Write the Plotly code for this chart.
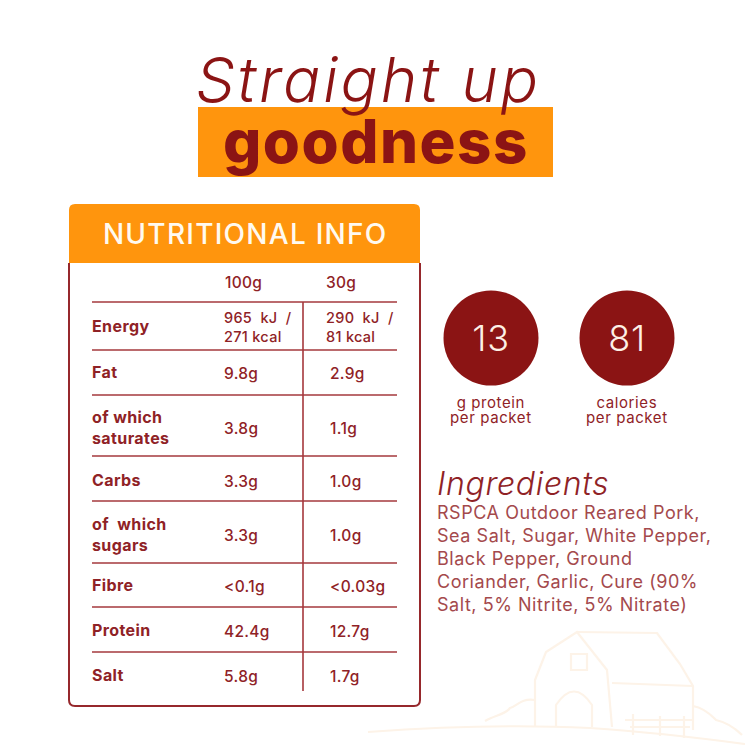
import json
import plotly.graph_objects as go

MAROON = "#8b1414"
TEXT = "#8f2226"
LINE = "#a5383c"
ORANGE = "#ff950d"
BARN = "#fdf3e8"
FONT = "Inter"

row_labels = ["Energy", "Fat", "of which<br>saturates", "Carbs", "of  which<br>sugars", "Fibre", "Protein", "Salt"]
per_100g = ["965  kJ  /<br>271 kcal", "9.8g", "3.8g", "3.3g", "3.3g", "&lt;0.1g", "42.4g", "5.8g"]
per_30g = ["290  kJ  /<br>81 kcal", "2.9g", "1.1g", "1.0g", "1.0g", "&lt;0.03g", "12.7g", "1.7g"]
column_heads = ["100g", "30g"]
stat_values = ["13", "81"]
stat_labels = ["g protein<br>per packet", "calories<br>per packet"]
ingredients = ["RSPCA Outdoor Reared Pork,", "Sea Salt, Sugar, White Pepper,", "Black Pepper, Ground",
               "Coriander, Garlic, Cure (90%", "Salt, 5% Nitrite, 5% Nitrate)"]

row_y = [326, 372, 427, 480, 534, 585, 630, 675]
rule_y = [302, 350, 395, 456, 501, 563, 607, 652]
ingredient_y = [512, 535, 558, 581, 604]
circle_x = [491, 627]

shapes, ann, spacing, line_dy = [], [], [], []

def text(x, y, s, size, color=TEXT, weight=400, anchor="left", style="normal", em=0.02, dy=None):
    spacing.append(em)
    line_dy.append(dy)
    ann.append(dict(x=x, y=y, text=s, xref="x", yref="y", showarrow=False, xanchor=anchor, yanchor="middle",
                    align=anchor, font=dict(family=FONT, size=size, color=color, weight=weight, style=style)))

def path(d, color, width=0, fill=None):
    shapes.append(dict(type="path", path=d, xref="x", yref="y", layer="below",
                       line=dict(color=color, width=width), fillcolor=fill or "rgba(0,0,0,0)"))

# barn watermark
for d in ["M368,732 C450,726 530,725 590,728 C650,732 700,738 745,744",
          "M535,727 L535,680 L546,652 L577,632 L607,670 L612,727",
          "M577,632 L657,633 L680,664 L693,686 L693,730",
          "M612,683 L693,686",
          "M556,726 L556,705 Q574,678 592,705 L592,727",
          "M571,654 H587 V670 H571 Z",
          "M485,721 C495,715 505,715 510,708 C518,706 520,698 535,700",
          "M693,706 C705,708 712,716 716,720 C725,722 735,728 742,735",
          "M625,720 H693 M633,714 V735 M660,716 V736 M684,716 V738 M630,727 H690"]:
    path(d, BARN, 2.2)

# title
shapes.append(dict(type="rect", x0=198, x1=553, y0=107, y1=177, xref="x", yref="y", layer="below",
                   fillcolor=ORANGE, line_width=0))
text(368, 79, "Straight up", 62, MAROON, 300, "center", "italic", em=0.045)
text(376, 141, "goodness", 60, MAROON, 800, "center", em=0.025)

# card
r = 6
L, R, T, H, B = 69, 420, 204, 263, 706
path(f"M{L},{H} V{B-r} Q{L},{B} {L+r},{B} H{R-r} Q{R},{B} {R},{B-r} V{H}", "#96282c", 2)
path(f"M{L},{H} V{T+r} Q{L},{T} {L+r},{T} H{R-r} Q{R},{T} {R},{T+r} V{H} Z", ORANGE, 0, ORANGE)
text(244.5, 234, "NUTRITIONAL INFO", 28, "#fffaf0", 500, "center", em=0.045)

for y in rule_y:
    shapes.append(dict(type="line", x0=92, x1=397, y0=y, y1=y, xref="x", yref="y", line=dict(color=LINE, width=1.6)))
shapes.append(dict(type="line", x0=303, x1=303, y0=302, y1=691, xref="x", yref="y", line=dict(color=LINE, width=1.6)))

text(223, 282, column_heads[0], 15.5, TEXT, 500)
text(324, 282, column_heads[1], 15.5, TEXT, 500)
for i, y in enumerate(row_y):
    text(90, y, row_labels[i], 16, TEXT, 700, em=0.025)
    text(222, y + 1, per_100g[i], 15.5 if i else 14.5, TEXT, 500)
    text(324 if i == 0 else 328, y + 1, per_30g[i], 15.5 if i else 14.5, TEXT, 500)

# circles
for i, cx in enumerate(circle_x):
    shapes.append(dict(type="circle", x0=cx-47.5, x1=cx+47.5, y0=338-47.5, y1=338+47.5, xref="x", yref="y",
                       fillcolor=MAROON, line_width=0))
    text(cx, 338, stat_values[i], 36, "#fdf0e6", 300, "center", em=0.02)
    text(cx, 412.5, stat_labels[i], 15, TEXT, 400, "center", em=0.04, dy="1em")

# ingredients
text(435, 483, "Ingredients", 32, TEXT, 300, "left", "italic", em=0.02)
for y, line in zip(ingredient_y, ingredients):
    text(435, y, line, 18, "#a4494c", 400, em=0.03)

fig = go.Figure()
fig.update_layout(
    width=745, height=745, margin=dict(l=0, r=0, t=0, b=0), paper_bgcolor="white", plot_bgcolor="white",
    xaxis=dict(range=[0, 745], visible=False, fixedrange=True),
    yaxis=dict(range=[745, 0], visible=False, fixedrange=True),
    shapes=shapes, annotations=ann, showlegend=False,
)
post = """
document.body.style.margin = '0';
var sp = %s, ld = %s;
document.querySelectorAll('.annotation').forEach(function (a) {
  var i = +a.getAttribute('data-index');
  var t = a.querySelector('.annotation-text');
  if (!t) return;
  t.style.letterSpacing = sp[i] + 'em';
  if (ld[i]) t.querySelectorAll('tspan.line').forEach(function (s, k) { if (k) s.setAttribute('dy', ld[i]); });
});
""" % (json.dumps(spacing), json.dumps(line_dy))
fig.write_html("out.html", config={"displayModeBar": False}, post_script=post)
